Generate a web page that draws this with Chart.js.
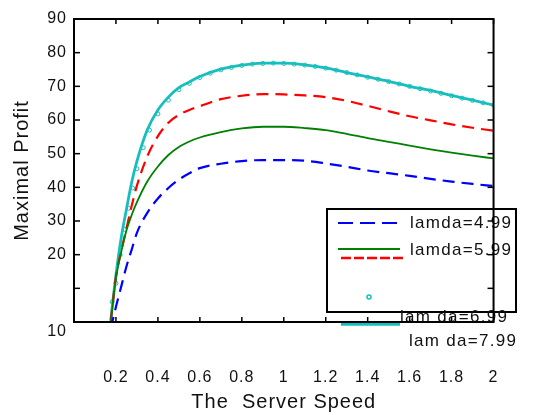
<!DOCTYPE html>
<html>
<head>
<meta charset="utf-8">
<script src="https://cdn.jsdelivr.net/npm/chart.js@4/dist/chart.umd.min.js"></script>
<style>
  html, body { margin: 0; padding: 0; background: #fff; }
  #wrap { width: 544px; height: 415px; }
</style>
</head>
<body>
<div id="wrap"><canvas id="c" width="544" height="415"></canvas></div>
<script>
// ---- data ----
const speeds = [0.175, 0.2, 0.225, 0.25, 0.275, 0.3, 0.35, 0.4, 0.45, 0.5, 0.55, 0.6, 0.7, 0.8, 0.9, 1.0, 1.1, 1.2, 1.3, 1.4, 1.5, 1.6, 1.7, 1.8, 1.9, 2.0];
const profitL499 = [-2, 4.5, 10.5, 16.5, 21.5, 26.5, 32.5, 36.7, 39.8, 42.3, 44.2, 45.7, 47.0, 47.8, 48.1, 48.1, 47.9, 47.1, 46.1, 45.0, 44.2, 43.4, 42.5, 41.7, 41.0, 40.4];
const profitL599 = [0, 13.0, 20.8, 27.2, 31.8, 35.6, 41.8, 46.2, 49.6, 52.0, 53.6, 54.8, 56.4, 57.5, 58.0, 58.0, 57.6, 57.0, 55.9, 54.6, 53.5, 52.4, 51.3, 50.3, 49.4, 48.6];
const profitRed  = [0, 13.5, 21.0, 27.8, 34.5, 40.5, 49.3, 55.2, 59.2, 61.5, 63.0, 64.1, 66.2, 67.2, 67.7, 67.6, 67.3, 66.8, 65.7, 64.2, 62.6, 61.1, 59.9, 58.7, 57.7, 56.8];
const profitL799 = [0.5, 14, 25, 33.5, 41.5, 47.8, 57.2, 63.0, 66.8, 69.6, 71.3, 72.9, 75.1, 76.3, 76.9, 76.9, 76.4, 75.5, 74.1, 72.8, 71.5, 70.0, 68.8, 67.3, 65.9, 64.4];
const speedsL699 = [0.182, 0.2, 0.22, 0.24, 0.26, 0.28, 0.3, 0.33, 0.36, 0.4, 0.45, 0.5, 0.55, 0.6, 0.65, 0.7, 0.75, 0.8, 0.85, 0.9, 0.95, 1.0, 1.05, 1.1, 1.15, 1.2, 1.25, 1.3, 1.35, 1.4, 1.45, 1.5, 1.55, 1.6, 1.65, 1.7, 1.75, 1.8, 1.85, 1.9, 1.95, 2.0];
const profitL699 = [6, 11.5, 20, 27.5, 33.8, 39.8, 45.5, 51.8, 57.0, 61.8, 65.9, 69.0, 70.9, 72.6, 73.9, 74.9, 75.6, 76.2, 76.6, 76.8, 76.9, 76.8, 76.6, 76.3, 75.9, 75.4, 74.8, 74.1, 73.4, 72.7, 72.1, 71.4, 70.7, 70.0, 69.3, 68.6, 67.9, 67.2, 66.5, 65.8, 65.1, 64.4];
const xTickValues = [0.2, 0.4, 0.6, 0.8, 1.0, 1.2, 1.4, 1.6, 1.8, 2.0];
const xTickLabels = ['0.2', '0.4', '0.6', '0.8', '1', '1.2', '1.4', '1.6', '1.8', '2'];
const yTickValues = [0, 10, 20, 30, 40, 50, 60, 70, 80, 90];
const yTickLabels = ['10', '', '20', '30', '40', '50', '60', '70', '80', '90'];
const legendLabels = ['lamda=4.99', 'lamda=5.99', 'lam da=6.99', 'lam da=7.99'];
const xTitle = 'The  Server Speed';
const yTitle = 'Maximal Profit';

const pts = (xs, ys) => xs.map((x, i) => ({ x: x, y: ys[i] }));
const FONT = 'Liberation Sans, Arial, sans-serif';
const CYAN = '#17BEBE';

const boxPlugin = {
  id: 'boxPlugin',
  beforeDraw(chart) { chart.ctx.letterSpacing = '1px'; },
  afterDraw(chart) {
    const ctx = chart.ctx;
    const { left, right, top, bottom } = chart.chartArea;
    const x = chart.scales.x, y = chart.scales.y;
    ctx.save();
    // legend (drawn as in the reference)
    ctx.fillStyle = '#fff';
    ctx.fillRect(327, 209, 189, 103);
    ctx.strokeStyle = '#000';
    ctx.lineWidth = 2;
    ctx.strokeRect(327, 209, 189, 103);
    const seg = (x1, y1, x2, y2, color, w, dash) => {
      ctx.beginPath(); ctx.setLineDash(dash || []); ctx.strokeStyle = color; ctx.lineWidth = w;
      ctx.moveTo(x1, y1); ctx.lineTo(x2, y2); ctx.stroke(); ctx.setLineDash([]);
    };
    seg(338, 223, 398, 223, '#0000FF', 2, [15, 7]);
    seg(338, 249, 400, 249, '#008000', 2);
    seg(341, 258, 403, 258, '#FF0000', 2.7, [10, 3]);
    ctx.beginPath(); ctx.strokeStyle = CYAN; ctx.lineWidth = 1.5; ctx.arc(369, 297, 2, 0, Math.PI * 2); ctx.stroke();
    ctx.font = '17px ' + FONT;
    ctx.letterSpacing = '1.3px';
    ctx.fillStyle = '#111';
    ctx.textAlign = 'left'; ctx.textBaseline = 'alphabetic';
    ctx.fillText(legendLabels[0], 410, 228);
    ctx.fillText(legendLabels[1], 410, 255);
    ctx.fillText(legendLabels[2], 400, 322);
    seg(341, 324, 400, 324, CYAN, 3.5);
    ctx.fillStyle = '#111';
    ctx.fillText(legendLabels[3], 409, 346);
    // axes box and inward ticks
    ctx.strokeStyle = '#000';
    ctx.lineWidth = 2;
    ctx.beginPath();
    ctx.moveTo(left, bottom); ctx.lineTo(left, top); ctx.lineTo(right, top); ctx.lineTo(right, bottom); ctx.lineTo(left, bottom);
    ctx.stroke();
    ctx.lineWidth = 1.5;
    xTickValues.forEach(v => {
      const px = x.getPixelForValue(v);
      ctx.beginPath(); ctx.moveTo(px, bottom); ctx.lineTo(px, bottom - 5); ctx.stroke();
      ctx.beginPath(); ctx.moveTo(px, top); ctx.lineTo(px, top + 5); ctx.stroke();
    });
    yTickValues.forEach(v => {
      if (v <= 0 || v >= 90) return;
      const py = y.getPixelForValue(v);
      ctx.beginPath(); ctx.moveTo(left, py); ctx.lineTo(left + 6, py); ctx.stroke();
      ctx.beginPath(); ctx.moveTo(right, py); ctx.lineTo(right - 6, py); ctx.stroke();
    });
    ctx.restore();
  }
};

new Chart(document.getElementById('c'), {
  type: 'line',
  data: {
    datasets: [
      { label: 'lamda=4.99', data: pts(speeds, profitL499), borderColor: '#0000FF', borderWidth: 2.2, borderDash: [12, 7], pointRadius: 0, cubicInterpolationMode: 'monotone' },
      { label: 'lamda=5.99', data: pts(speeds, profitL599), borderColor: '#008000', borderWidth: 1.8, pointRadius: 0, cubicInterpolationMode: 'monotone' },
      { label: 'red', data: pts(speeds, profitRed), borderColor: '#FF0000', borderWidth: 2.2, borderDash: [12, 7], pointRadius: 0, cubicInterpolationMode: 'monotone' },
      { label: 'lamda=6.99', data: pts(speedsL699, profitL699), borderColor: CYAN, borderWidth: 1, showLine: false, pointRadius: 2, pointBorderWidth: 1, pointBackgroundColor: 'rgba(255,255,255,0)', pointBorderColor: CYAN },
      { label: 'lamda=7.99', data: pts(speeds, profitL799), borderColor: CYAN, borderWidth: 2.8, pointRadius: 0, cubicInterpolationMode: 'monotone' }
    ]
  },
  options: {
    responsive: false,
    animation: false,
    layout: { padding: { top: 19, right: 21, bottom: 0, left: 0 } },
    plugins: { legend: { display: false }, tooltip: { enabled: false } },
    scales: {
      x: {
        type: 'linear', min: 0, max: 2,
        grid: { display: false, drawTicks: false },
        border: { display: true, color: '#000', width: 2 },
        afterBuildTicks: s => { s.ticks = xTickValues.map(v => ({ value: v })); },
        afterFit: s => { s.height = 93; },
        ticks: {
          padding: 46, maxRotation: 0, autoSkip: false, color: '#111',
          font: { family: FONT, size: 16 },
          callback: (v) => { const i = xTickValues.findIndex(t => Math.abs(t - v) < 1e-9); return i >= 0 ? xTickLabels[i] : ''; }
        },
        title: { display: true, text: xTitle, color: '#111', font: { family: FONT, size: 20 }, padding: { top: 0, bottom: 1 } }
      },
      y: {
        type: 'linear', min: 0, max: 90,
        grid: { display: false, drawTicks: false },
        border: { display: true, color: '#000', width: 2 },
        afterBuildTicks: s => { s.ticks = yTickValues.map(v => ({ value: v })); },
        afterFit: s => { s.width = 74; },
        ticks: {
          padding: 7, autoSkip: false, color: '#111',
          font: { family: FONT, size: 16 },
          callback: (v) => { const i = yTickValues.indexOf(v); const t = i >= 0 ? yTickLabels[i] : ''; return v === 0 ? ['', t] : t; }
        },
        title: { display: true, text: yTitle, color: '#111', font: { family: FONT, size: 20 }, padding: { top: 10, bottom: 0 } }
      }
    }
  },
  plugins: [boxPlugin]
});
</script>
</body>
</html>
